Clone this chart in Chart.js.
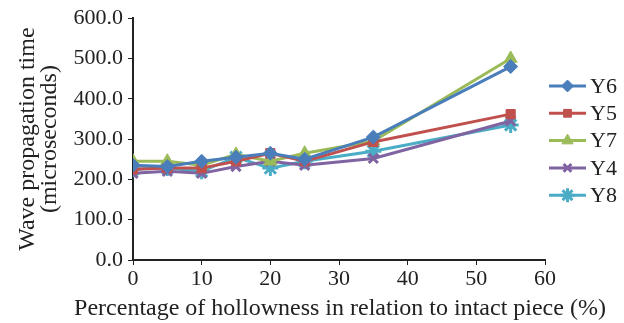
<!DOCTYPE html>
<html>
<head>
<meta charset="utf-8">
<script src="https://cdn.jsdelivr.net/npm/chart.js@4/dist/chart.umd.min.js"></script>
<style>
  html, body { margin: 0; padding: 0; background: #fff; }
  #wrap { width: 624px; height: 323px; }
</style>
</head>
<body>
<div id="wrap"><canvas id="chart"></canvas></div>
<script>
const hollowness = [0, 5, 10, 15, 20, 25, 35, 55];
const seriesNames = ["Y6", "Y5", "Y7", "Y4", "Y8"];
const y6 = [235, 232, 245, 255, 265, 250, 305, 480];
const y5 = [225, 228, 228, 245, 265, 245, 293, 362];
const y7 = [245, 245, 235, 262, 245, 265, 295, 500];
const y4 = [215, 220, 215, 232, 245, 235, 252, 345];
const y8 = [225, 228, 220, 255, 228, 245, 270, 335];
const xTitle = "Percentage of hollowness in relation to intact piece (%)";

const colors = ["#4a7ebb", "#c0504d", "#9bbb59", "#8064a2", "#4bacc6"];
const markers = ["rectRot", "rect", "triangle", "crossRot", "star"];
const markerSize = [7, 6.5, 7.5, 6.5, 8];
const serif = "'Liberation Serif', 'Times New Roman', serif";

const makeSet = (i, vals) => ({
  label: seriesNames[i],
  data: hollowness.map((x, k) => ({ x: x, y: vals[k] })),
  borderColor: colors[i],
  backgroundColor: colors[i],
  borderWidth: 3,
  pointStyle: markers[i],
  pointRadius: markerSize[i],
  pointBorderWidth: markers[i] === "crossRot" || markers[i] === "star" ? 3 : 1,
  tension: 0
});

// legend on the right (line + marker) and the x title, which is wider than the axis
// so chart.js would squeeze it to fit
const extras = {
  id: "extras",
  afterDraw(chart) {
    const ctx = chart.ctx;
    chart.data.datasets.forEach((ds, i) => {
      const y = 86 + i * 27.3;
      ctx.save();
      ctx.strokeStyle = ds.borderColor;
      ctx.lineWidth = 3;
      ctx.beginPath();
      ctx.moveTo(549, y);
      ctx.lineTo(586, y);
      ctx.stroke();
      ctx.fillStyle = ds.backgroundColor;
      ctx.lineWidth = ds.pointBorderWidth;
      Chart.helpers.drawPoint(ctx, { pointStyle: ds.pointStyle, radius: ds.pointRadius - 1, borderWidth: ds.pointBorderWidth, rotation: 0 }, 567.5, y);
      ctx.fillStyle = "#222";
      ctx.font = "22px " + serif;
      ctx.textBaseline = "middle";
      ctx.textAlign = "left";
      ctx.fillText(ds.label, 590, y + 1);
      ctx.restore();
    });

    ctx.save();
    ctx.fillStyle = "#222";
    ctx.font = "24px " + serif;
    ctx.textAlign = "center";
    ctx.textBaseline = "middle";
    ctx.fillText(xTitle, 340, 309);
    ctx.restore();
  }
};

new Chart(document.getElementById("chart"), {
  type: "line",
  data: {
    datasets: [makeSet(0, y6), makeSet(1, y5), makeSet(2, y7), makeSet(3, y4), makeSet(4, y8)]
  },
  options: {
    responsive: true,
    maintainAspectRatio: false,
    animation: false,
    layout: { padding: { top: 18, right: 79, left: 0, bottom: 0 } },
    plugins: { legend: { display: false }, tooltip: { enabled: false } },
    scales: {
      x: {
        type: "linear",
        min: 0,
        max: 60,
        ticks: { stepSize: 10, color: "#222", font: { family: serif, size: 22 }, padding: 1 },
        grid: { drawOnChartArea: false, drawTicks: true, tickLength: 5, color: "#222" },
        border: { display: true, color: "#222", width: 2 },
        afterFit(scale) { scale.height = 63; }
      },
      y: {
        min: 0,
        max: 600,
        ticks: {
          stepSize: 100,
          color: "#222",
          font: { family: serif, size: 22 },
          padding: 5,
          callback: v => v.toFixed(1)
        },
        grid: { drawOnChartArea: false, drawTicks: true, tickLength: 5, color: "#222" },
        border: { display: true, color: "#222", width: 2 },
        title: {
          display: true,
          text: ["Wave propagation time", "(microseconds)"],
          color: "#222",
          font: { family: serif, size: 24, lineHeight: 0.95 },
          padding: { top: 16, bottom: 0 }
        },
        afterFit(scale) { scale.width = 133; }
      }
    }
  },
  plugins: [extras]
});
</script>
</body>
</html>
